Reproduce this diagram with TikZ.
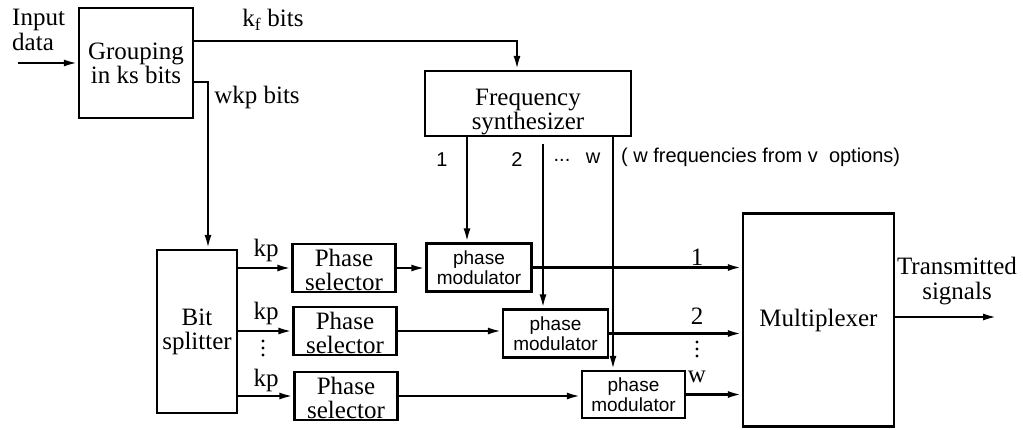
\documentclass[tikz,border=0pt]{standalone}
\usepackage{fontspec}
\setmainfont{Liberation Serif}
\setsansfont{Liberation Sans}
\usetikzlibrary{arrows.meta}

\begin{document}
\begin{tikzpicture}[x=1pt,y=-1pt,line width=2.4pt,
  >={Latex[length=14pt,width=7pt]},
  blk/.style={draw,rectangle,inner sep=0pt,align=center,font=\fontsize{25}{24}\selectfont},
  sel/.style={blk,minimum width=103pt,minimum height=48pt,text height=46pt,text depth=2pt},
  mod/.style={blk,minimum width=105pt,minimum height=48pt,font=\sffamily\fontsize{19}{20}\selectfont},
  lbl/.style={inner sep=0pt,font=\fontsize{25}{25}\selectfont},
  slbl/.style={inner sep=0pt,font=\sffamily\fontsize{20}{21}\selectfont}]
  \useasboundingbox (0,0) rectangle (1023,429);

  \coordinate (in) at (18,63);
  \coordinate (kf) at (517,41);
  \coordinate (wk) at (208,82);
  \coordinate (f1) at (467,136);
  \coordinate (f2) at (543,144);
  \coordinate (fw) at (613,136);
  \coordinate (out) at (997,317);

  \node[blk,minimum width=114pt,minimum height=110pt] (grp) at (136,63) {Grouping\\in ks bits};
  \node[blk,minimum width=206pt,minimum height=65pt,text height=58pt,text depth=7pt] (frq) at (528,103.5) {Frequency\\synthesizer};
  \node[blk,minimum width=80pt,minimum height=163pt] (spl) at (197,331.5) {Bit\\splitter};
  \node[blk,minimum width=151pt,minimum height=213pt] (mux) at (818.5,320) {Multiplexer};
  \node[sel] (ps1) at (344,268) {Phase\\selector};
  \node[sel] (ps2) at (345,331) {Phase\\selector};
  \node[sel] (ps3) at (346,396) {Phase\\selector};
  \node[mod] (pm1) at (479,267.5) {phase\\modulator};
  \node[mod] (pm2) at (555.5,333.5) {phase\\modulator};
  \node[mod,minimum width=103pt,minimum height=47pt] (pm3) at (633.5,394.5) {phase\\modulator};

  \node[lbl,align=left,anchor=west] (inp) at (11,30) {Input\\data};
  \node[lbl] (kfl) at (273,20) {k\textsubscript{f} bits};
  \node[lbl] (wkl) at (257,97) {wkp bits};
  \node[slbl] (n1) at (442,160) {1};
  \node[slbl] (n2) at (517,160) {2};
  \node[slbl] (ndots) at (562,160) {...};
  \node[slbl] (nw) at (593,158) {w};
  \node[slbl,anchor=west] (opt) at (620,157) {( w frequencies from v\ \ options)};
  \node[lbl] (kp1) at (266,250) {kp};
  \node[lbl] (kp2) at (266,313) {kp};
  \node[lbl] (kp3) at (266,380) {kp};
  \node[lbl] (m1) at (697,257) {1};
  \node[lbl] (m2) at (697,316) {2};
  \node[lbl] (mw) at (697,377) {w};
  \node[lbl,align=center] (txl) at (957,281) {Transmitted\\signals};
  \fill (263,341) circle (1.7pt) (263,348) circle (1.7pt) (263,355) circle (1.7pt);
  \fill (697,342) circle (1.7pt) (697,349) circle (1.7pt) (697,356) circle (1.7pt);

  \draw[->] (in) -- (in -| grp.west);
  \draw[->] (grp.east |- kf) -- (kf) -- (kf |- frq.north);
  \draw[->] (grp.east |- wk) -- (wk) -- (wk |- spl.north);
  \draw[->] (f1) -- (f1 |- pm1.north);
  \draw[->] (f2) -- (f2 |- pm2.north);
  \draw[->] (fw) -- (fw |- pm3.north);
  \draw[->] (spl.east |- ps1.west) -- (ps1.west);
  \draw[->] (spl.east |- ps2.west) -- (ps2.west);
  \draw[->] (spl.east |- ps3.west) -- (ps3.west);
  \draw[->] (ps1.east) -- (ps1.east -| pm1.west);
  \draw[->] (ps2.east) -- (ps2.east -| pm2.west);
  \draw[->] (ps3.east) -- (ps3.east -| pm3.west);
  \draw[->] (pm1.east) -- (pm1.east -| mux.west);
  \draw[->] (pm2.east) -- (pm2.east -| mux.west);
  \draw[->] (pm3.east) -- (pm3.east -| mux.west);
  \draw[->] (mux.east |- out) -- (out);
\end{tikzpicture}
\end{document}
